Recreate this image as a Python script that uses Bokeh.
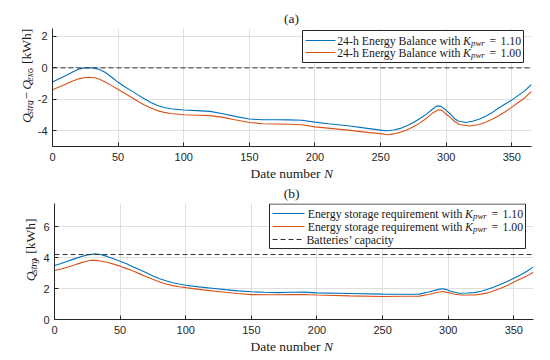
import math
from bokeh.plotting import figure
from bokeh.models import Range1d, Span, Label
from bokeh.layouts import column, row
from bokeh.embed import file_html
from bokeh.resources import INLINE

# ---------------- data ----------------
days_a_blue = [0, 5, 10, 15, 20, 25, 30, 35, 40, 45, 50, 55, 60, 65, 70, 75, 80, 85, 90, 100,
               110, 120, 130, 140, 150, 160, 170, 180, 190, 200, 210, 225, 240, 250, 255, 260,
               265, 270, 275, 280, 285, 290, 293, 296, 300, 303, 306, 309, 315, 320, 325, 330,
               335, 340, 345, 350, 355, 360, 365]
bal_k110 = [-0.9, -0.7, -0.5, -0.28, -0.08, 0.0, 0.0, -0.08, -0.28, -0.58, -0.92, -1.2, -1.45,
            -1.72, -1.97, -2.2, -2.4, -2.52, -2.6, -2.68, -2.72, -2.77, -2.92, -3.1, -3.25, -3.3,
            -3.3, -3.31, -3.33, -3.45, -3.55, -3.68, -3.85, -3.96, -4.0, -3.95, -3.85, -3.68,
            -3.47, -3.22, -2.94, -2.6, -2.42, -2.45, -2.7, -2.92, -3.2, -3.38, -3.47, -3.4, -3.27,
            -3.08, -2.85, -2.55, -2.3, -2.05, -1.75, -1.45, -1.05]

days_a_orange = [0, 5, 10, 15, 20, 25, 28, 32, 36, 40, 45, 50, 55, 60, 65, 70, 75, 80, 85, 90,
                 100, 110, 120, 130, 140, 150, 160, 170, 180, 190, 200, 210, 225, 240, 250, 255,
                 260, 265, 270, 275, 280, 285, 290, 294, 297, 300, 303, 306, 310, 318, 325, 330,
                 335, 340, 345, 350, 355, 360, 365]
bal_k100 = [-1.4, -1.22, -1.05, -0.85, -0.7, -0.61, -0.6, -0.63, -0.72, -0.9, -1.13, -1.38,
            -1.62, -1.87, -2.12, -2.36, -2.56, -2.72, -2.83, -2.9, -2.98, -3.01, -3.04, -3.15,
            -3.32, -3.47, -3.55, -3.57, -3.59, -3.62, -3.75, -3.83, -3.96, -4.1, -4.18, -4.25,
            -4.2, -4.1, -3.95, -3.75, -3.5, -3.2, -2.85, -2.66, -2.72, -2.95, -3.15, -3.38, -3.6,
            -3.7, -3.6, -3.46, -3.27, -3.05, -2.79, -2.5, -2.2, -1.9, -1.5]

days_b_blue = [0, 5, 10, 15, 20, 25, 30, 35, 40, 45, 50, 55, 60, 65, 70, 75, 80, 85, 90, 95, 100,
               110, 120, 130, 140, 150, 160, 170, 180, 190, 200, 225, 250, 265, 278, 285, 292,
               295, 298, 302, 308, 315, 320, 325, 330, 335, 340, 345, 350, 355, 360, 365]
stor_k110 = [3.49, 3.62, 3.77, 3.92, 4.06, 4.18, 4.24, 4.2, 4.08, 3.93, 3.77, 3.6, 3.4, 3.21,
             3.02, 2.82, 2.64, 2.5, 2.38, 2.29, 2.21, 2.11, 2.02, 1.93, 1.85, 1.79, 1.76, 1.74,
             1.76, 1.77, 1.72, 1.68, 1.64, 1.63, 1.64, 1.78, 1.93, 1.99, 1.95, 1.83, 1.70, 1.71,
             1.74, 1.83, 1.96, 2.1, 2.28, 2.46, 2.66, 2.88, 3.12, 3.4]

days_b_orange = [0, 5, 10, 15, 20, 25, 28, 32, 36, 40, 45, 50, 55, 60, 65, 70, 75, 80, 85, 90,
                 95, 100, 110, 120, 130, 140, 150, 160, 170, 180, 190, 200, 225, 250, 265, 278,
                 285, 292, 296, 300, 305, 310, 320, 325, 330, 335, 340, 345, 350, 355, 360, 365]
stor_k100 = [3.17, 3.27, 3.38, 3.52, 3.66, 3.78, 3.83, 3.82, 3.77, 3.7, 3.58, 3.45, 3.29, 3.13,
             2.95, 2.77, 2.6, 2.43, 2.3, 2.19, 2.12, 2.06, 1.95, 1.85, 1.76, 1.68, 1.61, 1.6,
             1.6, 1.61, 1.62, 1.58, 1.53, 1.49, 1.5, 1.51, 1.62, 1.76, 1.81, 1.74, 1.63, 1.58,
             1.58, 1.64, 1.72, 1.86, 2.02, 2.2, 2.42, 2.62, 2.82, 3.06]

zero_level = 0.0
battery_capacity = 4.2

x_ticks = [0, 50, 100, 150, 200, 250, 300, 350]
y_ticks_a = [-4, -2, 0, 2]
y_ticks_b = [0, 2, 4, 6]

# ---------------- style ----------------
BLUE = "#0072BD"
ORANGE = "#D95319"
DARK = "#262626"
TXT = "#1a1a1a"
GRID = "#dfdfdf"
SERIF = "Liberation Serif"
SANS = "Liberation Sans"

W = 542
YLW_A = 34          # width of the y-label strip (a)
YLW_B = 40          # width of the y-label strip (b)
FX0, FX1 = 52, 531  # frame page x
BOT = 20            # bottom border of the plotting figures

A_TOP, A_FH = 28, 118
B_TOP, B_FH = 203, 116
A_END = A_TOP + A_FH + BOT
B_END = B_TOP + B_FH + BOT
PAGE_END = 355


def make_fig(ymin, ymax, fh, yticks, ylw):
    p = figure(frame_width=FX1 - FX0, frame_height=fh, min_border_left=FX0 - ylw,
               min_border_right=W - FX1, min_border_top=0, min_border_bottom=BOT,
               x_range=Range1d(0, 365), y_range=Range1d(ymin, ymax),
               output_backend="svg", toolbar_location=None)
    p.outline_line_color = None
    p.background_fill_color = "white"
    p.border_fill_color = "white"
    for ax in (p.xaxis[0], p.yaxis[0]):
        ax.axis_line_color = DARK
        ax.major_tick_line_color = DARK
        ax.major_tick_in = 4
        ax.major_tick_out = 0
        ax.minor_tick_line_color = None
        ax.major_label_text_color = DARK
        ax.major_label_text_font = SANS
        ax.major_label_text_font_size = "11px"
    p.xaxis.ticker = x_ticks
    p.yaxis.ticker = yticks
    p.xaxis.major_label_standoff = 6
    p.yaxis.major_label_standoff = 5
    p.yaxis.major_label_overrides = {float(t): str(t) for t in yticks}
    p.xgrid.grid_line_color = GRID
    p.ygrid.grid_line_color = GRID
    return p


def strip(w, h):
    s = figure(width=w, height=h, min_border=0, x_range=Range1d(0, w), y_range=Range1d(0, h),
               x_axis_type=None, y_axis_type=None, output_backend="svg",
               toolbar_location=None)
    s.outline_line_color = None
    s.background_fill_color = "white"
    s.border_fill_color = "white"
    return s


def mapper(ptop, fh, ymin, ymax):
    def dx(px):
        return (px - FX0) / (FX1 - FX0) * 365.0

    def dy(py):
        return ymax - (py - ptop) / fh * (ymax - ymin)
    return dx, dy


def strip_mapper(x0, y0, h):
    def dx(px):
        return px - x0

    def dy(py):
        return h - (py - y0)
    return dx, dy


def lab(p, dx, dy, px, py, text, size, italic=False, align="left", baseline="middle",
        angle=0.0, color=TXT):
    p.add_layout(Label(x=dx(px), y=dy(py), text=text, text_font=SERIF,
                       text_font_size=f"{size}px",
                       text_font_style="italic" if italic else "normal",
                       text_align=align, text_baseline=baseline, angle=angle,
                       text_color=color))


LS = 11.8
SUB = 8.8
YS = 13.5
YSUB = 9.45
rot = math.pi / 2

# ---------------- plot (a) ----------------
p1 = make_fig(-5, 2.5, A_FH, y_ticks_a, YLW_A)
dx1, dy1 = mapper(A_TOP, A_FH, -5, 2.5)
p1.add_layout(Span(location=zero_level, dimension="width", line_color="#333333",
                   line_width=1, line_dash="5 3"))
p1.line(days_a_blue, bal_k110, line_color=BLUE, line_width=1.1)
p1.line(days_a_orange, bal_k100, line_color=ORANGE, line_width=1.1)

p1.quad(left=[dx1(302)], right=[dx1(523)], top=[dy1(30)], bottom=[dy1(62)],
        fill_color="white", line_color=DARK, line_width=1)
p1.line([dx1(305), dx1(335)], [dy1(40), dy1(40)], line_color=BLUE, line_width=1.1)
p1.line([dx1(305), dx1(335)], [dy1(52), dy1(52)], line_color=ORANGE, line_width=1.1)
for rowy, val in ((40, "1.10"), (52, "1.00")):
    lab(p1, dx1, dy1, 460, rowy, "24-h Energy Balance with", LS, align="right")
    lab(p1, dx1, dy1, 462.5, rowy, "K", LS, italic=True)
    lab(p1, dx1, dy1, 470.5, rowy + 2.5, "pwr", SUB, italic=True)
    lab(p1, dx1, dy1, 489, rowy, "=", LS)
    lab(p1, dx1, dy1, 500, rowy, val, LS)

# title strip (a)
s1 = strip(W, A_TOP)
sx, sy = strip_mapper(0, 0, A_TOP)
lab(s1, sx, sy, 291, 18, "(a)", 13.5, align="center")

# y-label strip (a)
ya = strip(YLW_A, A_END - A_TOP)
yx, yy = strip_mapper(0, A_TOP, A_END - A_TOP)
bx, sbx = 26, 29.5
lab(ya, yx, yy, bx, 138.5, "Q", YS, italic=True, angle=rot)
lab(ya, yx, yy, sbx, 128.75, "strg", YSUB, italic=True, angle=rot)
lab(ya, yx, yy, bx, 110.6, "\u2212", YS, angle=rot)
lab(ya, yx, yy, bx, 99.6, "Q", YS, italic=True, angle=rot)
lab(ya, yx, yy, sbx, 89.9, "exc", YSUB, italic=True, angle=rot)
lab(ya, yx, yy, bx, 77.3, ", [kWh]", YS, angle=rot)

# strip between: x-label (a) and title (b)
s2 = strip(W, B_TOP - A_END)
mx, my = strip_mapper(0, A_END, B_TOP - A_END)
lab(s2, mx, my, 250, 173, "Date number", 13.5)
lab(s2, mx, my, 323.5, 173, "N", 13.5, italic=True)
lab(s2, mx, my, 291, 193, "(b)", 13.5, align="center")

# ---------------- plot (b) ----------------
p2 = make_fig(0, 7.5, B_FH, y_ticks_b, YLW_B)
dx2, dy2 = mapper(B_TOP, B_FH, 0, 7.5)
p2.add_layout(Span(location=battery_capacity, dimension="width", line_color="#333333",
                   line_width=1, line_dash="5 3"))
p2.line(days_b_blue, stor_k110, line_color=BLUE, line_width=1.1)
p2.line(days_b_orange, stor_k100, line_color=ORANGE, line_width=1.1)

p2.quad(left=[dx2(267)], right=[dx2(523)], top=[dy2(203.5)], bottom=[dy2(248)],
        fill_color="white", line_color=DARK, line_width=1)
p2.line([dx2(270), dx2(302)], [dy2(213), dy2(213)], line_color=BLUE, line_width=1.1)
p2.line([dx2(270), dx2(302)], [dy2(226), dy2(226)], line_color=ORANGE, line_width=1.1)
p2.line([dx2(270), dx2(302)], [dy2(239), dy2(239)], line_color="#333333", line_width=1,
        line_dash="5 3")
for rowy, val in ((213, "1.10"), (226, "1.00")):
    lab(p2, dx2, dy2, 460, rowy, "Energy storage requirement with", LS, align="right")
    lab(p2, dx2, dy2, 462.5, rowy, "K", LS, italic=True)
    lab(p2, dx2, dy2, 470.5, rowy + 2.5, "pwr", SUB, italic=True)
    lab(p2, dx2, dy2, 489, rowy, "=", LS)
    lab(p2, dx2, dy2, 500, rowy, val, LS)
lab(p2, dx2, dy2, 304, 239, "Batteries\u2019 capacity", LS)

# y-label strip (b)
yb = strip(YLW_B, B_END - B_TOP)
ybx, yby = strip_mapper(0, B_TOP, B_END - B_TOP)
bx2, sbx2 = 30, 33.5
lab(yb, ybx, yby, bx2, 294.2, "Q", YS, italic=True, angle=rot)
lab(yb, ybx, yby, sbx2, 284.5, "strg", YSUB, italic=True, angle=rot)
lab(yb, ybx, yby, bx2, 269.8, ", [kWh]", YS, angle=rot)

# x-label strip (b)
s3 = strip(W, PAGE_END - B_END)
bx3, by3 = strip_mapper(0, B_END, PAGE_END - B_END)
lab(s3, bx3, by3, 250, 345.5, "Date number", 13.5)
lab(s3, bx3, by3, 323.5, 345.5, "N", 13.5, italic=True)

layout = column(s1, row(ya, p1), s2, row(yb, p2), s3)
open("out.html", "w").write(file_html(layout, INLINE))
